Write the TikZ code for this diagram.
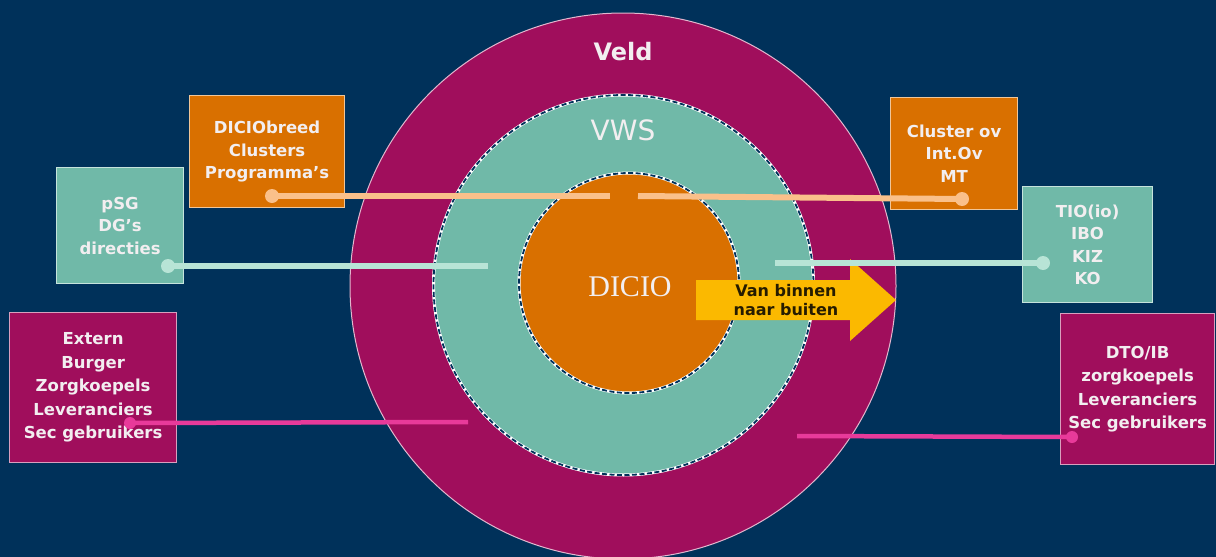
\documentclass[tikz,border=0pt]{standalone}
\usepackage{fontspec}
\setmainfont{DejaVu Sans}
\newfontfamily\serifont{Liberation Serif}
\definecolor{navy}{RGB}{0,49,90}
\definecolor{mag}{RGB}{160,14,92}
\definecolor{teal}{RGB}{112,185,168}
\definecolor{orng}{RGB}{217,112,0}
\definecolor{yel}{RGB}{251,185,0}
\definecolor{peach}{RGB}{250,192,138}
\definecolor{mint}{RGB}{184,228,214}
\definecolor{pink}{RGB}{232,58,154}
\definecolor{txt}{RGB}{242,238,240}
\begin{document}
\begin{tikzpicture}[x=1pt,y=-1pt,
  box/.style={draw=#1!40!white, line width=1.2pt, fill=#1, text=txt, align=center,
     font=\bfseries\fontsize{16.5}{22.5}\selectfont, inner sep=0pt, anchor=north west},
  ring/.style={draw=white, line width=3pt},
  ringdash/.style={draw=navy, line width=1.8pt, dash pattern=on 5pt off 2.5pt},
  conn/.style={line width=6pt, draw=#1},
  dot/.style={fill=#1}]
\useasboundingbox (0,0) rectangle (1216,557);
\fill[navy] (0,0) rectangle (1216,557);
% rings
\fill[mag] (623,286) circle (273);
\draw[white!70!mag, line width=1pt] (623,286) circle (273);
\fill[teal] (623.5,285) circle (190);
\draw[ring] (623.5,285) circle (190);
\draw[ringdash] (623.5,285) circle (190);
\fill[orng] (629,283) circle (110);
\draw[ring] (629,283) circle (110);
\draw[ringdash] (629,283) circle (110);
\node[font=\bfseries\fontsize{24}{24}\selectfont, text=txt] (veld) at (623,52) {Veld};
\node[font=\fontsize{28}{28}\selectfont, text=txt] (vws) at (623,130) {VWS};
\node[font=\serifont\fontsize{30}{30}\selectfont, text=txt] (dicio) at (630,287) {DICIO};
% arrow
\fill[yel] (696,280) -- (850,280) -- (850,259) -- (896,300) -- (850,341) -- (850,320) -- (696,320) -- cycle;
\node[font=\bfseries\fontsize{16}{19.5}\selectfont, text=black!85!yel, align=center] (arr) at (786,300) {Van binnen\\naar buiten};
% boxes
\node[box=orng, minimum width=155, minimum height=112] (b1) at (189,95) {DICIObreed\\Clusters\\Programma’s};
\node[box=orng, minimum width=127, minimum height=112] (b2) at (890,97) {Cluster ov\\Int.Ov\\MT};
\node[box=teal, minimum width=127, minimum height=116] (b3) at (56,167) {pSG\\DG’s\\directies};
\node[box=teal, minimum width=130, minimum height=116] (b4) at (1022,186) {TIO(io)\\IBO\\KIZ\\KO};
\node[box=mag, minimum width=167, minimum height=150, font=\bfseries\fontsize{16.5}{23.5}\selectfont] (b5) at (9,312) {Extern\\Burger\\Zorgkoepels\\Leveranciers\\Sec gebruikers};
\node[box=mag, minimum width=154, minimum height=151, font=\bfseries\fontsize{16.5}{23.5}\selectfont] (b6) at (1060,313) {DTO/IB\\zorgkoepels\\Leveranciers\\Sec gebruikers};
% connectors
\coordinate (p1) at (272,196); \coordinate (p1e) at (610,196);
\coordinate (p2) at (962,199); \coordinate (p2e) at (638,196);
\coordinate (t1) at (168,266); \coordinate (t1e) at (488,266);
\coordinate (t2) at (1043,263); \coordinate (t2e) at (775,263);
\coordinate (k1) at (130,423); \coordinate (k1e) at (468,422);
\coordinate (k2) at (1072,437); \coordinate (k2e) at (797,436);
\draw[conn=peach] (p1) -- (p1e);
\draw[conn=peach] (p2e) -- (p2);
\draw[conn=mint] (t1) -- (t1e);
\draw[conn=mint] (t2e) -- (t2);
\draw[conn=pink, line width=4.5pt] (k1) -- (k1e);
\draw[conn=pink, line width=4.5pt] (k2e) -- (k2);
\fill[peach] (p1) circle (7); \fill[peach] (p2) circle (7);
\fill[mint] (t1) circle (7); \fill[mint] (t2) circle (7);
\fill[pink] (k1) circle (6); \fill[pink] (k2) circle (6);
\end{tikzpicture}
\end{document}
